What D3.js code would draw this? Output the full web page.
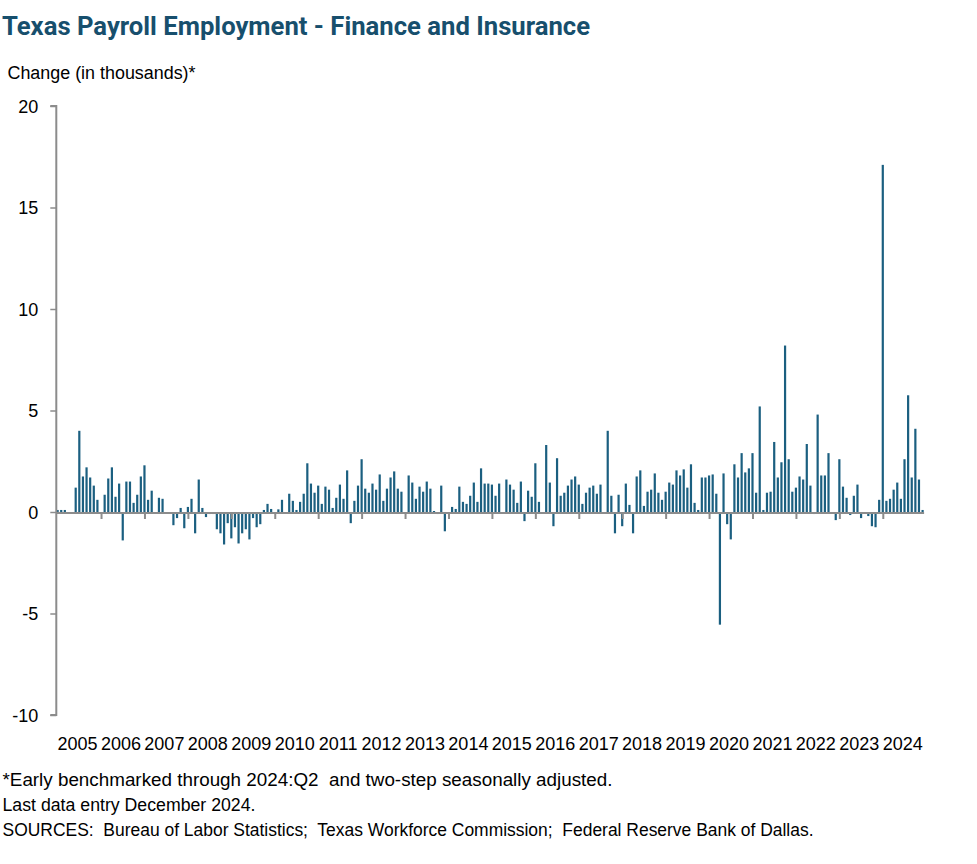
<!DOCTYPE html>
<html>
<head>
<meta charset="utf-8">
<script src="https://cdn.jsdelivr.net/npm/d3@7"></script>
<style>
  html, body { margin: 0; padding: 0; background: #ffffff; }
  svg { display: block; }
  text { font-family: "Liberation Sans", Arial, sans-serif; fill: #000; }
</style>
</head>
<body>
<svg id="chart" width="977" height="864"></svg>
<script>
// ---------- data ----------
const years = ["2005","2006","2007","2008","2009","2010","2011","2012","2013","2014",
               "2015","2016","2017","2018","2019","2020","2021","2022","2023","2024"];
// Monthly change in thousands, Jan 2005 .. Dec 2024 (one row per year)
const v2005 = [0.1, 0.1, 0.1, 0, 0, 1.2, 4.0, 1.75, 2.2, 1.7, 1.3, 0.6];
const v2006 = [0, 0.85, 1.65, 2.2, 0.75, 1.4, -1.4, 1.5, 1.5, 0.45, 0.85, 1.75];
const v2007 = [2.3, 0.6, 1.05, 0, 0.7, 0.65, 0, 0, -0.65, -0.3, 0.2, -0.8];
const v2008 = [0.25, 0.65, -1.05, 1.6, 0.2, -0.25, -0.1, -0.1, -0.85, -1.05, -1.6, -0.55];
const v2009 = [-1.3, -0.75, -1.55, -1.05, -0.85, -1.35, -0.3, -0.75, -0.6, 0.1, 0.4, 0.15];
const v2010 = [0, 0.13, 0.6, 0, 0.9, 0.55, 0.1, 0.5, 0.9, 2.4, 1.4, 0.95];
const v2011 = [1.3, 0.4, 1.25, 1.1, 0.2, 0.7, 1.35, 0.65, 2.05, -0.55, 0.55, 1.3];
const v2012 = [2.6, 1.15, 0.95, 1.4, 1.1, 1.85, 0.55, 1.15, 1.7, 2.0, 1.15, 1.0];
const v2013 = [0, 1.8, 1.45, 0.65, 1.25, 1.0, 1.5, 1.15, 0.05, -0.1, 1.3, -0.95];
const v2014 = [0, 0.25, 0.15, 1.25, 0.5, 0.4, 0.8, 1.45, 0.5, 2.15, 1.4, 1.4];
const v2015 = [1.35, 0.8, 1.4, 0, 1.6, 1.35, 1.1, 0.45, 1.5, -0.45, 1.05, 0.75];
const v2016 = [2.4, 0.5, 0, 3.3, 1.45, -0.7, 2.65, 0.8, 0.95, 1.3, 1.6, 1.75];
const v2017 = [1.35, 0.4, 0.95, 1.2, 1.3, 0.9, 1.35, 0, 4.0, 0.8, -1.05, 0.85];
const v2018 = [-0.7, 1.4, 0.35, -1.05, 1.75, 2.05, 0.3, 1.0, 1.1, 1.9, 0.95, 0.6];
const v2019 = [1.0, 1.45, 1.35, 2.05, 1.8, 2.1, 1.2, 2.35, 0.45, 0.1, 1.7, 1.7];
const v2020 = [1.8, 1.85, 0.9, -5.55, 1.9, -0.6, -1.35, 2.35, 1.7, 2.9, 1.95, 2.15];
const v2021 = [2.9, 0.95, 5.2, 0.1, 0.95, 1.0, 3.45, 1.7, 2.45, 8.2, 2.6, 1.0];
const v2022 = [1.2, 1.75, 1.6, 3.35, 1.3, -0.1, 4.8, 1.8, 1.8, 2.9, 0, -0.4];
const v2023 = [2.6, 1.25, 0.7, -0.15, 0.8, 1.35, -0.3, 0, -0.2, -0.7, -0.75, 0.6];
const v2024 = [17.1, 0.55, 0.65, 1.1, 1.45, 0.65, 2.6, 5.75, 1.7, 4.1, 1.6, 0.1];
const yTicks = [-10, -5, 0, 5, 10, 15, 20];

const title = "Texas Payroll Employment - Finance and Insurance";
const yTitle = "Change (in thousands)*";
const notes = [
  "*Early benchmarked through 2024:Q2  and two-step seasonally adjusted.",
  "Last data entry December 2024.",
  "SOURCES:  Bureau of Labor Statistics;  Texas Workforce Commission;  Federal Reserve Bank of Dallas."
];

// ---------- build series ----------
const values = [].concat(v2005, v2006, v2007, v2008, v2009, v2010, v2011, v2012, v2013, v2014,
                         v2015, v2016, v2017, v2018, v2019, v2020, v2021, v2022, v2023, v2024);
const data = values.map((v, i) => ({ i, v }));

// ---------- layout ----------
const svg = d3.select("#chart");
const barColor = "#1b5f80";
const axisColor = "#8c8c8c";

const x = d3.scaleLinear().domain([0, values.length - 1]).range([57.6, 922.6]);
const y = d3.scaleLinear().domain([-10, 20]).range([715, 106]);
const barW = 2.2;

function fit(sel, w) {
  const n = sel.node();
  const len = n.getComputedTextLength();
  if (Math.abs(len - w) > 1) sel.attr("textLength", w).attr("lengthAdjust", "spacingAndGlyphs");
}

// title
const t = svg.append("text").attr("x", 2).attr("y", 34.5)
  .style("font-family", "Roboto, 'Liberation Sans', sans-serif")
  .style("font-weight", 700).style("font-size", "25px").style("fill", "#174f6d")
  .text(title);
fit(t, 588);

const yt = svg.append("text").attr("x", 7.5).attr("y", 78.5)
  .style("font-size", "18px").text(yTitle);
fit(yt, 188);

// bars
svg.append("g").selectAll("rect").data(data).join("rect")
  .attr("x", d => x(d.i) - barW / 2)
  .attr("width", barW)
  .attr("y", d => y(Math.max(0, d.v)))
  .attr("height", d => Math.abs(y(d.v) - y(0)))
  .attr("fill", barColor);

// y axis
const yAxis = svg.append("g").attr("transform", "translate(56.3,0)")
  .call(d3.axisLeft(y).tickValues(yTicks).tickSize(6).tickPadding(12).tickFormat(d => String(d)));
yAxis.select(".domain").attr("stroke", axisColor).attr("stroke-width", 2)
  .attr("d", `M-6,${y(20)}H0V${y(-10)}H-6`).attr("fill", "none");
yAxis.selectAll(".tick line").attr("stroke", axisColor).attr("stroke-width", 1.5);
yAxis.selectAll(".tick text").style("font-family", "'Liberation Sans', Arial, sans-serif")
  .style("font-size", "18px").attr("fill", "#000").attr("dy", "0.34em");

// x axis
const y0 = y(0) + 1;
const xAxis = svg.append("g").attr("transform", `translate(0,${y0})`)
  .call(d3.axisBottom(x).tickValues(d3.range(12, values.length, 12)).tickSize(6).tickFormat(""));
xAxis.select(".domain").attr("stroke", axisColor).attr("stroke-width", 2)
  .attr("d", `M${x(0) - 1},0H${x(values.length - 1) + 1.5}`);
xAxis.selectAll(".tick line").attr("stroke", axisColor).attr("stroke-width", 2);

// year labels
svg.append("g").selectAll("text").data(years).join("text")
  .attr("x", (d, k) => x(12 * k + 5.5))
  .attr("y", 749.5)
  .attr("text-anchor", "middle")
  .style("font-size", "18px")
  .text(d => d);

// footnotes
const noteY = [786, 811, 836];
const noteW = [610, 253, 811];
notes.forEach((s, k) => {
  const n = svg.append("text").attr("x", 2.5).attr("y", noteY[k])
    .style("font-size", "17.5px").style("white-space", "pre").attr("xml:space", "preserve")
    .text(s);
  fit(n, noteW[k]);
});
</script>
</body>
</html>
